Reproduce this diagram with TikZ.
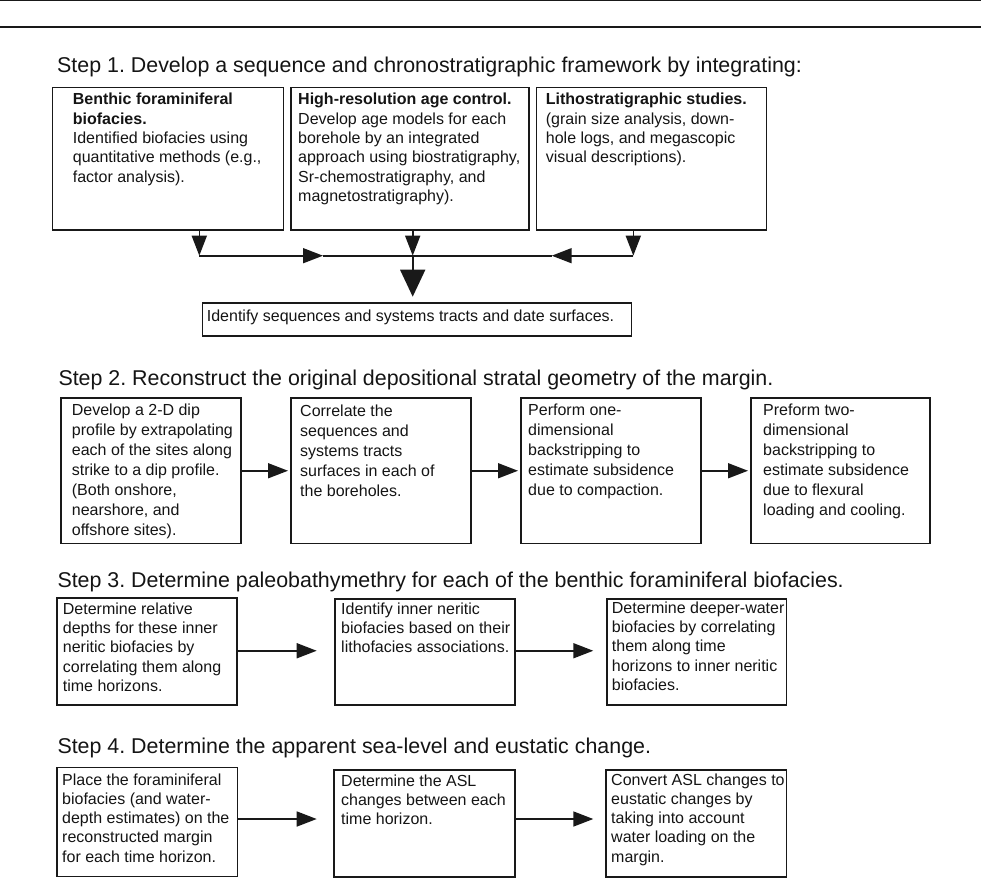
\documentclass[tikz,border=0pt]{standalone}
\usepackage{fontspec}
\setmainfont{Liberation Sans}
\frenchspacing
\usetikzlibrary{arrows.meta,calc}
\definecolor{lc}{RGB}{25,25,25}
\definecolor{tc}{RGB}{20,20,20}
\newcommand{\mlines}[1]{\begin{tabular}[t]{@{}l@{}}#1\end{tabular}}
\tikzset{
  box/.style={draw=lc, line width=1.5pt, inner sep=0pt, anchor=north west},
  btxt/.style={anchor=base west, inner sep=0pt, text=tc, font=\fontsize{16}{19.3}\selectfont},
  btxtb/.style={btxt, font=\fontsize{16}{20}\selectfont},
  head/.style={anchor=base west, inner sep=0pt, text=tc, font=\fontsize{21.4}{25}\selectfont},
  ln/.style={line width=1.6pt, draw=lc},
  arr/.style={ln, -{Triangle[length=20pt,width=15pt]}},
  bigarr/.style={ln, -{Triangle[length=27pt,width=25pt]}},
}
\begin{document}
\begin{tikzpicture}[x=1pt,y=-1pt]
\useasboundingbox (0,0) rectangle (981,877);
% top rules
\coordinate (r1l) at (0,0.8); \coordinate (r1r) at (981,0.8);
\coordinate (r2l) at (0,27); \coordinate (r2r) at (981,27);
\draw[ln, line width=1.4pt] (r1l) -- (r1r);
\draw[ln, line width=1.4pt] (r2l) -- (r2r);

% ---------- Step 1 ----------
\node[head] (h1) at (57,73) {Step 1. Develop a sequence and chronostratigraphic framework by integrating:};
\node[box, minimum width=231pt, minimum height=142.3pt] (s1a) at (51.7,87) {};
\node[box, minimum width=238.3pt, minimum height=142.3pt] (s1b) at (290,87) {};
\node[box, minimum width=230pt, minimum height=142.3pt] (s1c) at (535.7,87) {};
\node[box, minimum width=429pt, minimum height=32.7pt] (s1d) at (201.7,302.3) {};
\node[btxt] (t1a) at ($(s1a.north west)+(21,18)$) {\mlines{\textbf{Benthic foraminiferal}\\\textbf{biofacies.}\\Identified biofacies using\\quantitative methods (e.g.,\\factor analysis).}};
\node[btxt] (t1b) at ($(s1b.north west)+(8,18)$) {\mlines{\textbf{High-resolution age control.}\\Develop age models for each\\borehole by an integrated\\approach using biostratigraphy,\\Sr-chemostratigraphy, and\\magnetostratigraphy).}};
\node[btxt] (t1c) at ($(s1c.north west)+(10,18)$) {\mlines{\textbf{Lithostratigraphic studies.}\\(grain size analysis, down-\\hole logs, and megascopic\\visual descriptions).}};
\node[btxt] (t1d) at ($(s1d.north west)+(5,19.4)$) {Identify sequences and systems tracts and date surfaces.};
\coordinate (ja) at (199.3,255.7);
\coordinate (jb) at (412.7,255.7);
\coordinate (jc) at (633.3,255.7);
\coordinate (ha) at (323,255.7);
\coordinate (hc) at (551.7,255.7);
\draw[arr] (s1a.south -| ja) -- (ja);
\draw[arr] (s1b.south -| jb) -- (jb);
\draw[arr] (s1c.south -| jc) -- (jc);
\draw[arr] (ja) -- (ha);
\draw[ln] (ha) -- (jb);
\draw[arr] (jc) -- (hc);
\draw[ln] (hc) -- (jb);
\draw[bigarr] (jb) -- ([yshift=5.6pt]s1d.north -| jb);

% ---------- Step 2 ----------
\node[head] (h2) at (58.3,385.7) {Step 2. Reconstruct the original depositional stratal geometry of the margin.};
\node[box, minimum width=180pt, minimum height=145.4pt] (s2a) at (60,397.3) {};
\node[box, minimum width=180pt, minimum height=145.4pt] (s2b) at (290,397.3) {};
\node[box, minimum width=180pt, minimum height=145.4pt] (s2c) at (520,397.3) {};
\node[box, minimum width=179.3pt, minimum height=145.4pt] (s2d) at (750,397.3) {};
\node[btxtb] (t2a) at ($(s2a.north west)+(11.7,18.4)$) {\mlines{Develop a 2-D dip\\profile by extrapolating\\each of the sites along\\strike to a dip profile.\\(Both onshore,\\nearshore, and\\offshore sites).}};
\node[btxtb] (t2b) at ($(s2b.north west)+(10,19.4)$) {\mlines{Correlate the\\sequences and\\systems tracts\\surfaces in each of\\the boreholes.}};
\node[btxtb] (t2c) at ($(s2c.north west)+(8,18.4)$) {\mlines{Perform one-\\dimensional\\backstripping to\\estimate subsidence\\due to compaction.}};
\node[btxtb] (t2d) at ($(s2d.north west)+(13,18.4)$) {\mlines{Preform two-\\dimensional\\backstripping to\\estimate subsidence\\due to flexural\\loading and cooling.}};
\draw[arr] (s2a.east) -- ([xshift=-2pt]s2b.west);
\draw[arr] (s2b.east) -- ([xshift=-2pt]s2c.west);
\draw[arr] (s2c.east) -- ([xshift=-2pt]s2d.west);

% ---------- Step 3 ----------
\node[head] (h3) at (57.3,587.3) {Step 3. Determine paleobathymethry for each of the benthic foraminiferal biofacies.};
\node[box, minimum width=180pt, minimum height=107pt] (s3a) at (56,597) {};
\node[box, minimum width=180pt, minimum height=105.7pt] (s3b) at (334,598.3) {};
\node[box, minimum width=179.7pt, minimum height=106pt] (s3c) at (606,598.3) {};
\node[btxt] (t3a) at ($(s3a.north west)+(6.7,17.3)$) {\mlines{Determine relative\\depths for these inner\\neritic biofacies by\\correlating them along\\time horizons.}};
\node[btxt] (t3b) at ($(s3b.north west)+(7,16)$) {\mlines{Identify inner neritic\\biofacies based on their\\lithofacies associations.}};
\node[btxt] (t3c) at ($(s3c.north west)+(5.7,15)$) {\mlines{Determine deeper-water\\biofacies by correlating\\them along time\\horizons to inner neritic\\biofacies.}};
\coordinate (a3a) at ($(s3a.east)+(0,-0.5)$);
\draw[arr] (a3a) -- ([xshift=-17.3pt]s3b.west |- a3a);
\draw[arr] (s3b.east |- a3a) -- ([xshift=-12.7pt]s3c.west |- a3a);

% ---------- Step 4 ----------
\node[head] (h4) at (57.3,753.3) {Step 4. Determine the apparent sea-level and eustatic change.};
\node[box, minimum width=180.7pt, minimum height=109pt] (s4a) at (56,766.7) {};
\node[box, minimum width=180.7pt, minimum height=107pt] (s4b) at (333.3,769) {};
\node[box, minimum width=180.4pt, minimum height=107pt] (s4c) at (605.3,769) {};
\node[btxt] (t4a) at ($(s4a.north west)+(6,18.3)$) {\mlines{Place the foraminiferal\\biofacies (and water-\\depth estimates) on the\\reconstructed margin\\for each time horizon.}};
\node[btxt] (t4b) at ($(s4b.north west)+(7.7,17)$) {\mlines{Determine the ASL\\changes between each\\time horizon.}};
\node[btxt] (t4c) at ($(s4c.north west)+(5.7,16)$) {\mlines{Convert ASL changes to\\eustatic changes by\\taking into account\\water loading on the\\margin.}};
\coordinate (a4a) at (s4a.east |- 0,819);
\draw[arr] (a4a) -- ([xshift=-16.6pt]s4b.west |- a4a);
\draw[arr] (s4b.east |- a4a) -- ([xshift=-12pt]s4c.west |- a4a);
\end{tikzpicture}
\end{document}
